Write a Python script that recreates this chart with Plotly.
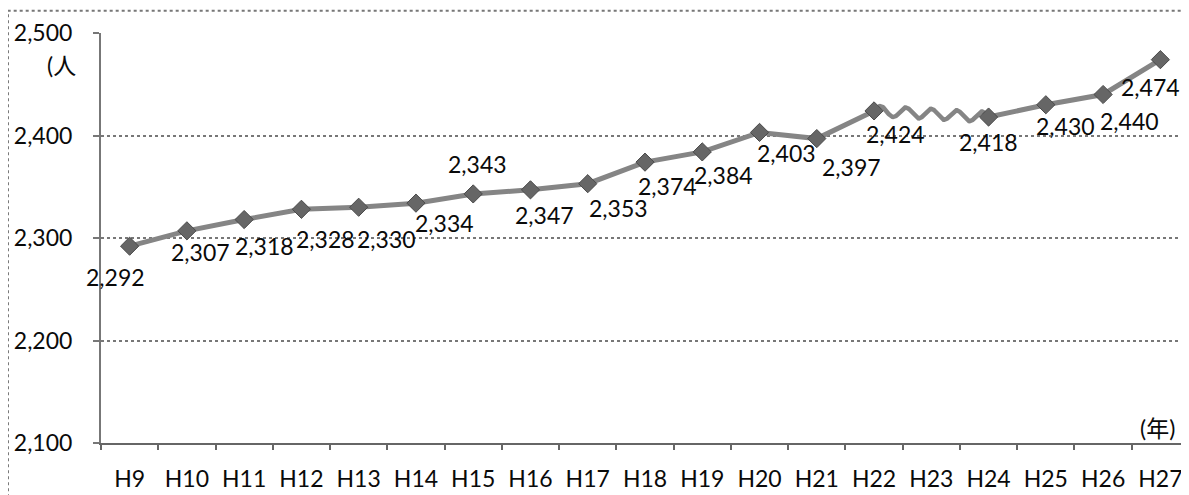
import numpy as np
import plotly.graph_objects as go

# ---- data ----
years = ["H9", "H10", "H11", "H12", "H13", "H14", "H15", "H16", "H17", "H18",
         "H19", "H20", "H21", "H22", "H23", "H24", "H25", "H26", "H27"]
values = [2292, 2307, 2318, 2328, 2330, 2334, 2343, 2347, 2353, 2374,
          2384, 2403, 2397, 2424, None, 2418, 2430, 2440, 2474]
y_ticks = [2100, 2200, 2300, 2400, 2500]

# label offsets (style, pixels) for each data label
label_dx = [-14, 14, 20, 24, 28, 29, 4, 14, 31, 22, 21, 27, 35, 21, 0, 0, 20, 26, -10]
label_dy = [-31, -21, -26, -30, -32, -20, 30, -25, -24, -24, -23, -21, -28, -23, 0, -25, -21, -26, -27]

FONT = "Lato, 'Noto Sans CJK JP', sans-serif"
FS = 23
TXT = "#0a0a0a"
idx = list(range(len(years)))

fig = go.Figure()

# main series, split around the missing year
seg1_x = [i for i in idx if i <= 13]
seg2_x = [i for i in idx if i >= 15]
for sx in (seg1_x, seg2_x):
    fig.add_trace(go.Scatter(
        x=sx, y=[values[i] for i in sx], mode="lines",
        line=dict(color="#858585", width=5), hoverinfo="skip", showlegend=False))

# wavy gap marker between the two points either side of the missing year
i_a, i_b = 13, 15
t = np.linspace(0, 1, 200)
wave_x = i_a + (i_b - i_a) * t
wave_y = values[i_a] + (values[i_b] - values[i_a]) * t + 5 * np.sin(2 * np.pi * 4.5 * t)
fig.add_trace(go.Scatter(x=wave_x, y=wave_y, mode="lines",
                         line=dict(color="#858585", width=4.5),
                         hoverinfo="skip", showlegend=False))

# markers
mx = [i for i in idx if values[i] is not None]
fig.add_trace(go.Scatter(
    x=mx, y=[values[i] for i in mx], mode="markers",
    marker=dict(symbol="diamond", size=14, color="#666666",
                line=dict(color="#4a4a4a", width=1)),
    showlegend=False))

# data labels
for i in mx:
    fig.add_annotation(x=i, y=values[i], text=f"{values[i]:,}", showarrow=False,
                       xshift=label_dx[i], yshift=label_dy[i],
                       font=dict(family=FONT, size=FS, color=TXT))

# axis unit labels
fig.add_annotation(xref="paper", yref="paper", x=-0.0515, y=0.922, xanchor="left",
                   yanchor="middle", text="(人", showarrow=False,
                   font=dict(family=FONT, size=FS, color=TXT))
fig.add_annotation(xref="paper", yref="paper", x=0.989, y=0.037, xanchor="right",
                   yanchor="middle", text="(年)", showarrow=False,
                   font=dict(family=FONT, size=FS, color=TXT))

# outer chart frame
fig.add_shape(type="rect", xref="paper", yref="paper",
              x0=-0.0855, x1=1.02, y0=-0.3, y1=1.054,
              line=dict(color="#777777", width=2, dash="dot"), layer="below")

fig.update_layout(
    width=1181, height=487,
    margin=dict(l=93, r=0, t=25, b=52, autoexpand=False),
    paper_bgcolor="white", plot_bgcolor="white",
    font=dict(family=FONT, size=FS, color=TXT),
    xaxis=dict(
        range=[-0.5, 18.5], tickmode="array", tickvals=idx, ticktext=years,
        showgrid=False, zeroline=False, ticks="",
        showline=True, linecolor="#666666", linewidth=2,
        ticklabelstandoff=14, automargin=False,
        minor=dict(ticks="outside", tickmode="linear", tick0=-0.5, dtick=1,
                   ticklen=5, tickcolor="#666666", tickwidth=2, showgrid=False),
        tickfont=dict(family=FONT, size=FS, color=TXT),
    ),
    yaxis=dict(
        range=[2100, 2500], tickmode="array", tickvals=y_ticks,
        tickformat=",", showgrid=True, gridcolor="#777777", gridwidth=2,
        griddash="dot", zeroline=False,
        showline=True, linecolor="#777777", linewidth=2,
        ticks="outside", ticklen=6, tickcolor="#777777", tickwidth=2,
        ticklabelstandoff=16, automargin=False,
        tickfont=dict(family=FONT, size=FS, color=TXT),
    ),
)

fig.write_html("out.html")
